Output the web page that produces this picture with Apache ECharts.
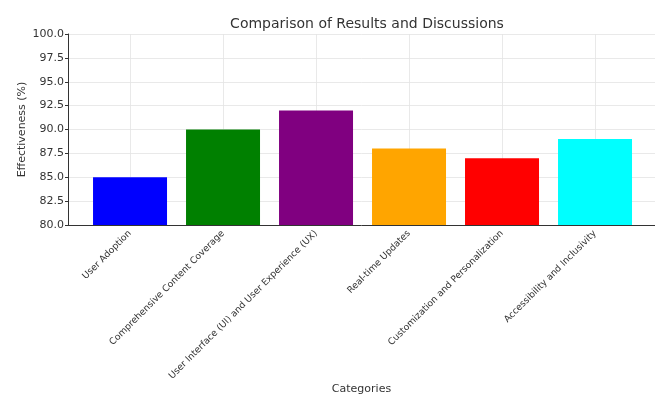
<!DOCTYPE html>
<html>
<head>
<meta charset="utf-8">
<script src="https://cdn.jsdelivr.net/npm/echarts@6/dist/echarts.min.js"></script>
<style>html,body{margin:0;padding:0;background:#fff}#c{width:655px;height:395px}</style>
</head>
<body>
<div id="c"></div>
<script>
var categories = ['User Adoption', 'Comprehensive Content Coverage', 'User Interface (UI) and User Experience (UX)', 'Real-time Updates', 'Customization and Personalization', 'Accessibility and Inclusivity'];
var values = [85, 90, 92, 88, 87, 89];
var colors = ['#0000ff', '#008000', '#800080', '#ffa500', '#ff0000', '#00ffff'];
var yTicks = [80, 82.5, 85, 87.5, 90, 92.5, 95, 97.5, 100];

var idx = categories.map(function (c, i) { return i; });
var chart = echarts.init(document.getElementById('c'), null, { renderer: 'canvas' });
var font = 'DejaVu Sans';
chart.setOption({
  animation: false,
  backgroundColor: '#fff',
  title: {
    text: 'Comparison of Results and Discussions',
    left: 362, top: 12, textAlign: 'center',
    textStyle: { fontFamily: font, fontSize: 14, fontWeight: 'normal', color: '#333' }
  },
  grid: { left: 68, right: 0, top: 34, bottom: 170, containLabel: false, outerBoundsMode: 'none' },
  xAxis: {
    type: 'value', min: -0.667, max: 5.645,
    name: 'Categories', nameLocation: 'middle', nameGap: 159, nameMoveOverlap: false,
    nameTextStyle: { fontFamily: font, fontSize: 11, color: '#333' },
    axisLine: { show: true, onZero: false, lineStyle: { color: '#333', width: 1 } },
    axisTick: { show: true, customValues: idx, length: 3, inside: true, lineStyle: { color: '#333' } },
    axisLabel: {
      customValues: idx, rotate: 45, margin: 7,
      fontFamily: font, fontSize: 9.2, color: '#333',
      formatter: function (v) { return categories[Math.round(v)]; }
    },
    splitLine: { show: true, lineStyle: { color: '#e3e3e3', width: 0.8 } }
  },
  yAxis: {
    type: 'value', min: yTicks[0], max: yTicks[yTicks.length - 1], interval: 2.5,
    name: 'Effectiveness (%)', nameLocation: 'middle', nameGap: 40, nameMoveOverlap: false,
    nameTextStyle: { fontFamily: font, fontSize: 11, color: '#333' },
    axisLine: { show: true, onZero: false, lineStyle: { color: '#333', width: 1 } },
    axisTick: { show: true, length: 3, lineStyle: { color: '#333' } },
    axisLabel: {
      fontFamily: font, fontSize: 11, color: '#333', margin: 4,
      formatter: function (v) { return v.toFixed(1); }
    },
    splitLine: { show: true, lineStyle: { color: '#e3e3e3', width: 0.8 } }
  },
  series: [{
    type: 'bar',
    barWidth: 74,
    data: values.map(function (v, i) { return { value: [i, v], itemStyle: { color: colors[i] } }; })
  }]
});
</script>
</body>
</html>
